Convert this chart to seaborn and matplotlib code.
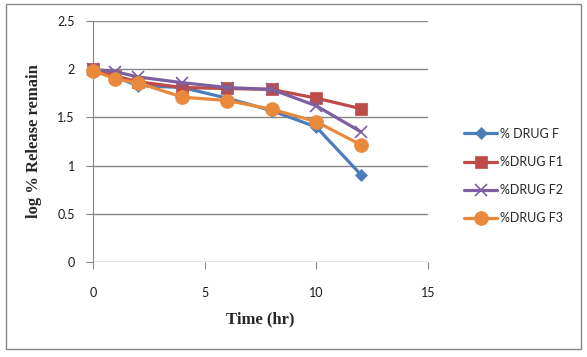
import numpy as np
import pandas as pd
import matplotlib
matplotlib.use("Agg")
import matplotlib.pyplot as plt
import seaborn as sns
from matplotlib.patches import Rectangle

# values
time_hr = [0, 1, 2, 4, 6, 8, 10, 12]
drug_f = [1.99, 1.92, 1.83, 1.81, 1.70, 1.57, 1.40, 0.905]
drug_f1 = [2.00, 1.93, 1.87, 1.81, 1.80, 1.79, 1.70, 1.59]
drug_f2 = [2.00, 1.975, 1.92, 1.86, 1.81, 1.79, 1.62, 1.35]
drug_f3 = [1.985, 1.90, 1.86, 1.71, 1.675, 1.585, 1.455, 1.215]
series_names = ["% DRUG F", "%DRUG F1", "%DRUG F2", "%DRUG F3"]

df = pd.DataFrame({"time": time_hr * 4,
                   "value": drug_f + drug_f1 + drug_f2 + drug_f3,
                   "series": np.repeat(series_names, len(time_hr))})

colors = ["#4A7EBB", "#BE4B48", "#7D60A0", "#E8893C"]
markers = ["D", "s", "x", "o"]
msizes = [6, 9, 8, 10]

sns.set_style("white")
plt.rcParams["font.family"] = ["Lato", "DejaVu Sans"]

fig = plt.figure(figsize=(5.87, 3.57), dpi=100)
W, H = 587, 357
ax = fig.add_axes([93 / W, 1 - 262 / H, (428 - 93) / W, (262 - 21) / H])

for name, c, m, ms in zip(series_names, colors, markers, msizes):
    sub = df[df["series"] == name]
    sns.lineplot(data=sub, x="time", y="value", ax=ax, color=c, marker=m,
                 markersize=ms, linewidth=2.3, markeredgecolor=c,
                 markeredgewidth=1.2 if m == "x" else 0.5, label=name,
                 clip_on=False, zorder=3)

ax.set_xlim(0, 15)
ax.set_ylim(0, 2.5)
ax.set_xticks([0, 5, 10, 15])
ax.set_yticks([0, 0.5, 1, 1.5, 2, 2.5])
ax.set_yticklabels(["0", "0.5", "1", "1.5", "2", "2.5"])
ax.yaxis.grid(True, color="#868686", linewidth=1)
ax.set_axisbelow(True)
for s in ["top", "right", "bottom"]:
    ax.spines[s].set_visible(False)
ax.spines["left"].set_color("#868686")
ax.tick_params(axis="both", which="both", direction="out", length=5,
               color="#868686", labelsize=9, labelcolor="#1a1a1a")
ax.tick_params(axis="y", pad=8)
ax.tick_params(axis="x", bottom=True, pad=13)
ax.xaxis.set_ticks_position("bottom")
ax.yaxis.set_ticks_position("left")

ax.set_xlabel("Time (hr)", family="Liberation Serif", fontweight="bold",
              fontsize=12, labelpad=9)
ax.set_ylabel("log % Release remain", family="Liberation Serif",
              fontweight="bold", fontsize=12, labelpad=11)

leg = ax.legend(loc="center left", bbox_to_anchor=(453 / W, 1 - 176 / H),
                bbox_transform=fig.transFigure, frameon=False, fontsize=9,
                handlelength=2.6, labelspacing=1.3, handletextpad=0.3)

fig.patches.append(Rectangle((6 / W, 1 - 349 / H), (581 - 6) / W, (349 - 4) / H,
                             transform=fig.transFigure, fill=False,
                             edgecolor="#868686", linewidth=1))

fig.savefig("out.png", dpi=100)
